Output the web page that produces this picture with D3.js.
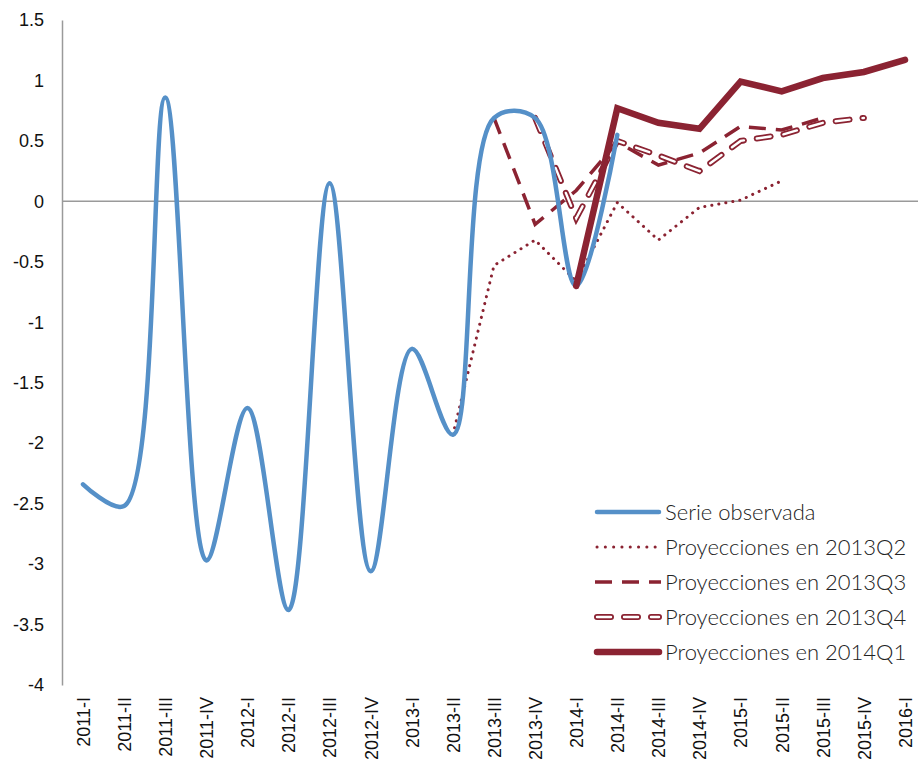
<!DOCTYPE html>
<html><head><meta charset="utf-8">
<script src="https://cdn.jsdelivr.net/npm/d3@7"></script>
<style>
body{margin:0;background:#fff;}
svg{display:block;}
</style></head>
<body>
<svg id="chart" width="918" height="770"></svg>
<script>
const categories = ["2011-I","2011-II","2011-III","2011-IV","2012-I","2012-II","2012-III","2012-IV",
  "2013-I","2013-II","2013-III","2013-IV","2014-I","2014-II","2014-III","2014-IV",
  "2015-I","2015-II","2015-III","2015-IV","2016-I"];
const observed = [-2.34,-2.52,0.86,-2.97,-1.71,-3.38,0.15,-3.06,-1.22,-1.93,0.69,0.69,-0.70,0.55,
  null,null,null,null,null,null,null];
const proj2013Q2 = [null,null,null,null,null,null,null,null,null,-1.93,-0.53,-0.32,-0.66,-0.01,-0.32,-0.05,0.01,0.17,null,null,null];
const proj2013Q3 = [null,null,null,null,null,null,null,null,null,null,0.69,-0.19,0.09,0.49,0.30,0.40,0.62,0.59,0.69,null,null];
const proj2013Q4 = [null,null,null,null,null,null,null,null,null,null,null,0.69,-0.14,0.50,0.38,0.25,0.50,0.55,0.65,0.69,null];
const proj2014Q1 = [null,null,null,null,null,null,null,null,null,null,null,null,-0.70,0.77,0.65,0.60,0.99,0.91,1.02,1.07,1.17];
const yTicks = [1.5,1,0.5,0,-0.5,-1,-1.5,-2,-2.5,-3,-3.5,-4];
const legendLabels = ["Serie observada","Proyecciones en 2013Q2","Proyecciones en 2013Q3","Proyecciones en 2013Q4","Proyecciones en 2014Q1"];

const blue = "#5590c8", red = "#8b2332";
const svg = d3.select("#chart");
const x = d3.scalePoint().domain(categories).range([83, 905]);
const y = d3.scaleLinear().domain([-4, 1.5]).range([685, 20]);

// zero line
svg.append("line").attr("x1", 62).attr("x2", 918).attr("y1", y(0)).attr("y2", y(0))
  .attr("stroke", "#9a9a9a").attr("stroke-width", 1.5);

// y axis
const ya = svg.append("g").attr("transform", "translate(62,0)")
  .call(d3.axisLeft(y).tickValues(yTicks).tickSize(0).tickPadding(18).tickFormat(d => String(d)));
ya.select(".domain").attr("stroke", "#9a9a9a").attr("stroke-width", 1.5);
ya.selectAll("text").attr("font-family", "Liberation Sans, Arial, sans-serif").attr("font-size", 18).attr("fill", "#111");

// x axis
const xa = svg.append("g").attr("transform", "translate(0,685)")
  .call(d3.axisBottom(x).tickSize(0).tickPadding(0));
xa.select(".domain").remove();
xa.selectAll("text").attr("font-family", "Liberation Sans, Arial, sans-serif").attr("font-size", 18).attr("fill", "#111")
  .attr("text-anchor", "end")
  .attr("transform", "translate(0,12) rotate(-90)").attr("dx", 0).attr("y", 0).attr("dy", "0.35em");

function mk(curve) {
  return d3.line().defined(d => d.v !== null).x(d => x(d.c)).y(d => y(d.v)).curve(curve);
}
const toPts = arr => categories.map((c, i) => ({c, v: arr[i]}));
const lin = mk(d3.curveLinear);

// projections
svg.append("path").attr("d", lin(toPts(proj2013Q2))).attr("fill", "none").attr("stroke", red)
  .attr("stroke-width", 3).attr("stroke-linecap", "round").attr("stroke-dasharray", "0.1 7");
svg.append("path").attr("d", lin(toPts(proj2013Q3))).attr("fill", "none").attr("stroke", red)
  .attr("stroke-width", 3.5).attr("stroke-dasharray", "17 10");
svg.append("path").attr("d", lin(toPts(proj2013Q4))).attr("fill", "none").attr("stroke", red)
  .attr("stroke-width", 6).attr("stroke-linecap", "round").attr("stroke-dasharray", "14 13");
svg.append("path").attr("d", lin(toPts(proj2013Q4))).attr("fill", "none").attr("stroke", "#fff")
  .attr("stroke-width", 2.4).attr("stroke-linecap", "round").attr("stroke-dasharray", "14 13");
// observed
svg.append("path").attr("d", mk(d3.curveCatmullRom.alpha(0.5))(toPts(observed))).attr("fill", "none")
  .attr("stroke", blue).attr("stroke-width", 4.5).attr("stroke-linecap", "round");
svg.append("path").attr("d", lin(toPts(proj2014Q1))).attr("fill", "none").attr("stroke", red)
  .attr("stroke-width", 6.5).attr("stroke-linecap", "round").attr("stroke-linejoin", "miter");

// legend
const lg = svg.append("g");
legendLabels.forEach((lab, i) => {
  const yy = 512 + i * 35;
  const g = lg.append("g");
  if (i === 0) {
    g.append("line").attr("x1", 597).attr("x2", 659).attr("y1", yy).attr("y2", yy)
      .attr("stroke", blue).attr("stroke-width", 4.5).attr("stroke-linecap", "round");
  } else if (i === 1) {
    g.append("line").attr("x1", 597).attr("x2", 659).attr("y1", yy).attr("y2", yy)
      .attr("stroke", red).attr("stroke-width", 3).attr("stroke-linecap", "round").attr("stroke-dasharray", "0.1 8.2");
  } else if (i === 2) {
    g.append("line").attr("x1", 595).attr("x2", 661).attr("y1", yy).attr("y2", yy)
      .attr("stroke", red).attr("stroke-width", 3.5).attr("stroke-dasharray", "17 10");
  } else if (i === 3) {
    g.append("line").attr("x1", 597).attr("x2", 659).attr("y1", yy).attr("y2", yy)
      .attr("stroke", red).attr("stroke-width", 6).attr("stroke-linecap", "round").attr("stroke-dasharray", "14 13");
    g.append("line").attr("x1", 597).attr("x2", 659).attr("y1", yy).attr("y2", yy)
      .attr("stroke", "#fff").attr("stroke-width", 2.4).attr("stroke-linecap", "round").attr("stroke-dasharray", "14 13");
  } else {
    g.append("line").attr("x1", 597).attr("x2", 659).attr("y1", yy).attr("y2", yy)
      .attr("stroke", red).attr("stroke-width", 6.5).attr("stroke-linecap", "round");
  }
  g.append("text").attr("x", 665).attr("y", yy).attr("dy", "0.35em")
    .attr("font-family", "Lato, 'Open Sans', sans-serif").attr("font-weight", 300)
    .attr("font-size", 22).attr("fill", "#222")
    .text(lab);
});
</script>
</body></html>
